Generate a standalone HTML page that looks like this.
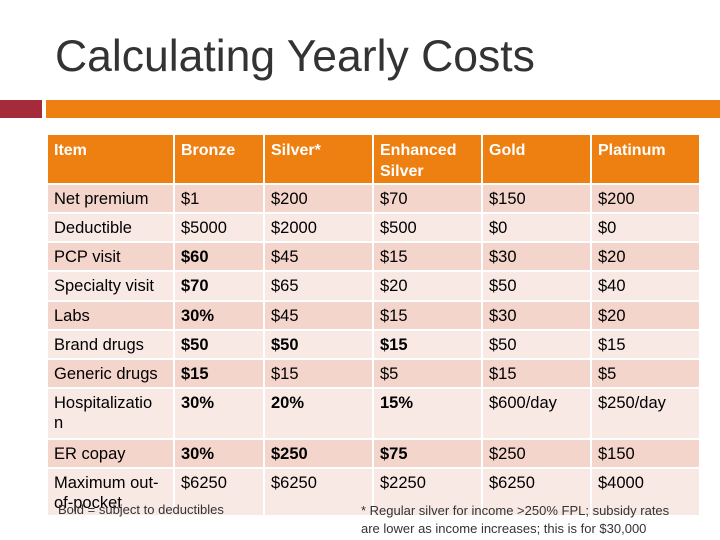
<!DOCTYPE html>
<html><head><meta charset="utf-8"><style>
body{margin:0;width:720px;height:540px;background:#fff;position:relative;overflow:hidden;font-family:"Liberation Sans",Arial,sans-serif}
#title{position:absolute;left:55px;top:32px;font-size:44.5px;color:#333;white-space:nowrap}
#rb{position:absolute;left:0;top:100px;width:42px;height:18px;background:#a52a3a}
#ob{position:absolute;left:46px;top:100px;width:674px;height:18px;background:#ee7f11}
table{position:absolute;left:46px;top:133px;border-collapse:separate;border-spacing:2px;font-size:16.5px;color:#000;table-layout:fixed;width:655px}
td{padding:4px 6px 0 6px;vertical-align:top;line-height:20px;overflow:hidden;white-space:nowrap}
th{background:#ee7f11;color:#fff;text-align:left;vertical-align:top;padding:5px 6px 0 6px;height:43px;line-height:21px;font-size:16px}
tr.d td{background:#f4d5cb}tr.l td{background:#f9e9e5}
.n1{position:absolute;left:58px;top:502px;font-size:13px;color:#333}
.n2{position:absolute;left:361px;top:502px;font-size:13px;color:#333;line-height:18px}
</style></head><body>
<div id="title">Calculating Yearly Costs</div>
<div id="rb"></div>
<div id="ob"></div>
<table>
<colgroup><col style="width:125px"><col style="width:88px"><col style="width:107px"><col style="width:107px"><col style="width:107px"><col style="width:107px"></colgroup>
<tr><th>Item</th><th>Bronze</th><th>Silver*</th><th>Enhanced<br>Silver</th><th>Gold</th><th>Platinum</th></tr>
<tr class="d" style="height:27px"><td>Net premium</td><td>$1</td><td>$200</td><td>$70</td><td>$150</td><td>$200</td></tr>
<tr class="l" style="height:27px"><td>Deductible</td><td>$5000</td><td>$2000</td><td>$500</td><td>$0</td><td>$0</td></tr>
<tr class="d" style="height:27px"><td>PCP visit</td><td><b>$60</b></td><td>$45</td><td>$15</td><td>$30</td><td>$20</td></tr>
<tr class="l" style="height:28px"><td>Specialty visit</td><td><b>$70</b></td><td>$65</td><td>$20</td><td>$50</td><td>$40</td></tr>
<tr class="d" style="height:27px"><td>Labs</td><td><b>30%</b></td><td>$45</td><td>$15</td><td>$30</td><td>$20</td></tr>
<tr class="l" style="height:27px"><td>Brand drugs</td><td><b>$50</b></td><td><b>$50</b></td><td><b>$15</b></td><td>$50</td><td>$15</td></tr>
<tr class="d" style="height:27px"><td>Generic drugs</td><td><b>$15</b></td><td>$15</td><td>$5</td><td>$15</td><td>$5</td></tr>
<tr class="l" style="height:49px"><td>Hospitalizatio<br>n</td><td><b>30%</b></td><td><b>20%</b></td><td><b>15%</b></td><td>$600/day</td><td>$250/day</td></tr>
<tr class="d" style="height:27px"><td>ER copay</td><td><b>30%</b></td><td><b>$250</b></td><td><b>$75</b></td><td>$250</td><td>$150</td></tr>
<tr class="l" style="height:46px"><td>Maximum out-<br>of-pocket</td><td>$6250</td><td>$6250</td><td>$2250</td><td>$6250</td><td>$4000</td></tr>
</table>
<div class="n1">Bold = subject to deductibles</div>
<div class="n2">* Regular silver for income &gt;250% FPL; subsidy rates<br>are lower as income increases; this is for $30,000</div>
</body></html>
